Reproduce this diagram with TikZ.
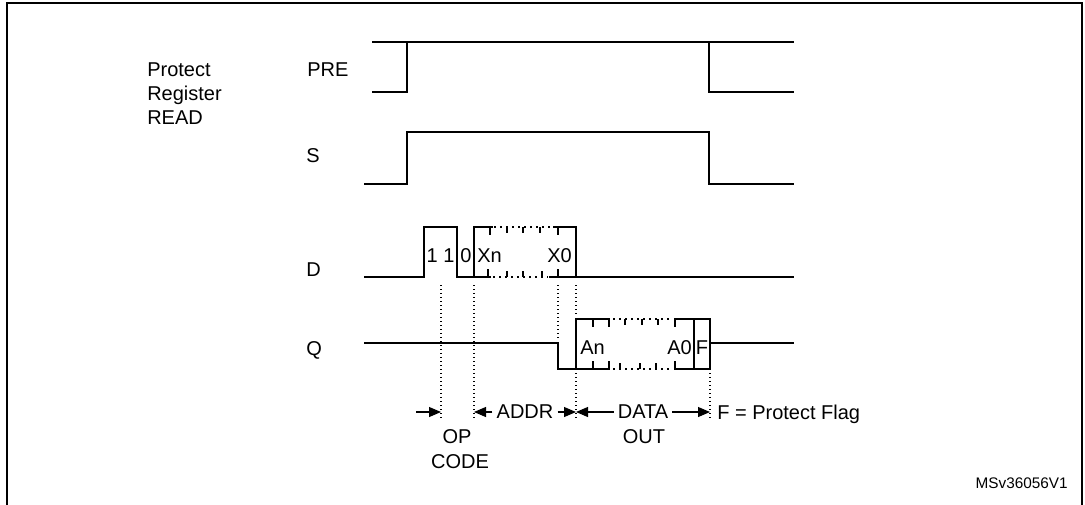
\documentclass[tikz,border=0pt]{standalone}
\usepackage{fontspec}
\setmainfont{Liberation Sans}
\usetikzlibrary{arrows.meta}
\begin{document}
\begin{tikzpicture}[x=0.75pt,y=-0.75pt,
  frame/.style={line width=1.5pt},
  wave/.style={line width=1.5pt, line join=miter, line cap=rect},
  busdots/.style={line width=1.3pt, dash pattern=on 1.3pt off 3.2pt},
  bustick/.style={line width=1.3pt},
  guide/.style={line width=0.8pt, dash pattern=on 0.8pt off 2.2pt},
  lbl/.style={font=\fontsize{15}{18}\selectfont, inner sep=0pt},
  inlbl/.style={font=\fontsize{15}{18}\selectfont, inner sep=0pt},
  dimlbl/.style={font=\fontsize{15}{18}\selectfont, inner sep=3pt},
  small/.style={font=\fontsize{11.5}{14}\selectfont, inner sep=0pt},
  dim/.style={line width=0.8pt, -{Triangle[length=9pt,width=7.5pt]}},
]
\useasboundingbox (0,0) rectangle (1085,504);
\draw[frame] (7,510) -- (7,3) -- (1082,3) -- (1082,510);

% --- labels ---
\node[lbl, anchor=base west] (prot) at (147,76) {Protect};
\node[lbl, anchor=base west] (reg) at (147,100) {Register};
\node[lbl, anchor=base west] (rd) at (147,124) {READ};
\node[lbl, anchor=base west] (pre) at (307,76) {PRE};
\node[lbl, anchor=base west] (s) at (306,162) {S};
\node[lbl, anchor=base west] (d) at (306,276) {D};
\node[lbl, anchor=base west] (q) at (306,355) {Q};

% --- PRE ---
\draw[wave] (373,42) -- (793,42);
\draw[wave] (373,92) -- (407,92) -- (407,42);
\draw[wave] (709,42) -- (709,92) -- (793,92);

% --- S ---
\draw[wave] (365,184) -- (407,184) -- (407,132) -- (709,132) -- (709,184) -- (793,184);

% --- D ---
\draw[wave] (365,277) -- (424,277) -- (424,227) -- (457,227) -- (457,277) -- (474,277) -- (474,227);
\draw[wave] (576,227) -- (576,277) -- (793,277);
\draw[wave] (474,227) -- (492,227) (490,227) -- (490,234) (554,227) -- (576,227) (558,227) -- (558,234);
\draw[busdots] (494,227) -- (552,227);
\draw[bustick] (507,227) -- (507,233) (523,227) -- (523,233) (540,227) -- (540,233);
\draw[wave] (474,277) -- (490,277) (488,277) -- (488,270) (550,277) -- (576,277) (558,277) -- (558,270);
\draw[busdots] (493,277) -- (548,277);
\draw[bustick] (507,277) -- (507,271) (523,277) -- (523,271) (542,277) -- (542,271);
\node[inlbl, anchor=base] (b11) at (440.5,262) {1 1};
\node[inlbl, anchor=base] (b0) at (466,262) {0};
\node[inlbl, anchor=base west] (xn) at (477,262) {Xn};
\node[inlbl, anchor=base east] (x0) at (572,262) {X0};

% --- Q ---
\draw[wave] (365,343) -- (558,343) -- (558,369) -- (576,369);
\draw[wave] (576,369) -- (576,319);
\draw[wave] (694,319) -- (694,369) (710,319) -- (710,369);
\draw[wave] (710,343) -- (793,343);
\draw[wave] (576,319) -- (609,319) (593,319) -- (593,326) (609,319) -- (609,326) (675,319) -- (710,319) (675,319) -- (675,326);
\draw[busdots] (613,319) -- (672,319);
\draw[bustick] (625,319) -- (625,325) (642,319) -- (642,325) (658,319) -- (658,325);
\draw[wave] (576,369) -- (609,369) (593,369) -- (593,362) (609,369) -- (609,362) (675,369) -- (710,369) (675,369) -- (675,362);
\draw[busdots] (613,369) -- (672,369);
\draw[bustick] (620,369) -- (620,363) (640,369) -- (640,363) (656,369) -- (656,363);
\node[inlbl, anchor=base west] (an) at (580,354) {An};
\node[inlbl, anchor=base east] (a0) at (692,354) {A0};
\node[inlbl, anchor=base] (fb) at (702,354) {F};

% --- guides ---
\draw[guide] (441,285) -- (441,420);
\draw[guide] (474,285) -- (474,420);
\draw[guide] (558,285) -- (558,339);
\draw[guide] (576,285) -- (576,316);
\draw[guide] (576,373) -- (576,420);
\draw[guide] (710,373) -- (710,420);

% --- timing annotations ---
\coordinate (m1) at (441,412);
\coordinate (m2) at (474,412);
\coordinate (m3) at (576,412);
\coordinate (m4) at (710,412);
\coordinate (st) at (416,412);
\node[dimlbl] (addr) at (525,412) {ADDR};
\node[dimlbl] (data) at (643,412) {DATA};
\node[lbl, anchor=center] (out) at (644,437) {OUT};
\node[lbl, anchor=center] (op) at (457,437) {OP};
\node[lbl, anchor=center] (code) at (460,462) {CODE};
\node[lbl, anchor=base west] (flag) at (717,419) {F = Protect Flag};
\draw[dim] (st) -- (m1);
\draw[dim] (addr.west) -- (m2);
\draw[dim] (addr.east) -- (m3);
\draw[dim] (data.west) -- (m3);
\draw[dim] (data.east) -- (m4);

\node[small, anchor=base east] (ms) at (1068,488) {MSv36056V1};
\end{tikzpicture}
\end{document}
